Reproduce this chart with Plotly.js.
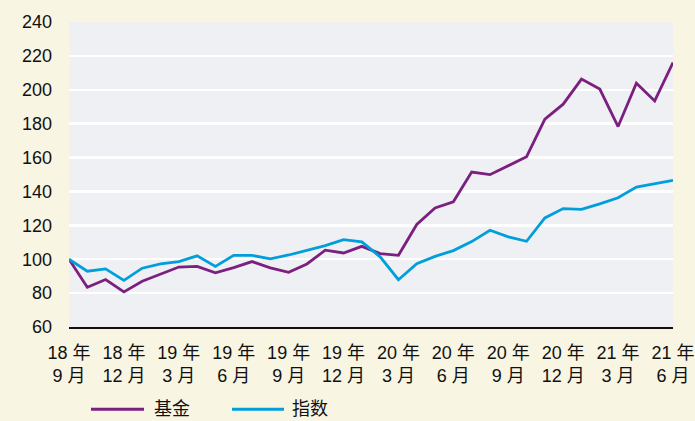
<!DOCTYPE html>
<html><head><meta charset="utf-8">
<script src="https://cdn.plot.ly/plotly-3.0.1.min.js"></script>
<style>html,body{margin:0;padding:0;background:#F8F5E3;}</style>
</head><body>
<div id="chart" style="width:695px;height:421px;"></div>
<script>
const monthIndex = [0,1,2,3,4,5,6,7,8,9,10,11,12,13,14,15,16,17,18,19,20,21,22,23,24,25,26,27,28,29,30,31,32,33];
const fund = [100,83.4,88,80.7,87,91,95.4,95.8,92,95,98.6,94.9,92.3,97.2,105.3,103.7,107.6,103.3,102.3,120.5,130.3,133.9,151.4,149.9,155,160.5,182.6,191.5,206.3,200.4,178.3,203.9,193.4,216.1];
const index = [100,92.9,94.3,87.5,94.7,97.2,98.6,102,95.8,102.3,102.3,100.2,102.5,105.3,108,111.6,110.2,101.4,87.9,97.4,101.7,105.1,110.4,117.1,113.2,110.6,124.4,129.9,129.4,132.7,136.3,142.6,144.6,146.5];
const tickVals = [0,3,6,9,12,15,18,21,24,27,30,33];
const tickLabels = ['18 年<br>9 月','18 年<br>12 月','19 年<br>3 月','19 年<br>6 月','19 年<br>9 月','19 年<br>12 月','20 年<br>3 月','20 年<br>6 月','20 年<br>9 月','20 年<br>12 月','21 年<br>3 月','21 年<br>6 月'];
const seriesNames = ['基金','指数'];
const seriesColors = ['#7B1F80','#009FDB'];

const font = 'Liberation Sans, Arial, Noto Sans CJK SC, sans-serif';
const traces = [
  {x: monthIndex, y: fund, name: seriesNames[0], type:'scatter', mode:'lines', line:{color:seriesColors[0], width:2.8}},
  {x: monthIndex, y: index, name: seriesNames[1], type:'scatter', mode:'lines', line:{color:seriesColors[1], width:2.8}}
];
// custom legend (longer line samples, as in the reference)
const legY = -0.27;
const legItems = [{x0:0.0364, x1:0.1242, tx:0.1374}, {x0:0.2699, x1:0.356, tx:0.3659}];
const shapes = legItems.map((it,i)=>({type:'line', xref:'paper', yref:'paper', x0:it.x0, x1:it.x1, y0:legY, y1:legY, line:{color:seriesColors[i], width:3}}));
const annotations = legItems.map((it,i)=>({xref:'paper', yref:'paper', x:it.tx, y:legY, xanchor:'left', yanchor:'middle', text:seriesNames[i], showarrow:false, font:{size:18, color:'#111'}}));

const layout = {
  width:695, height:421,
  paper_bgcolor:'#F8F5E3', plot_bgcolor:'#EFF0F3',
  margin:{l:69, r:22, t:22, b:94, autoexpand:false},
  font:{family:font, size:18, color:'#111'},
  showlegend:false,
  shapes: shapes,
  annotations: annotations,
  xaxis:{range:[0,33], tickvals:tickVals, ticktext:tickLabels, showgrid:false, zeroline:false,
    showline:true, linecolor:'#111', linewidth:2, ticks:'', ticklabelstandoff:8, tickfont:{size:18}},
  yaxis:{range:[60,240], dtick:20, tick0:60, showgrid:true, gridcolor:'#FFFFFF', gridwidth:2.5,
    zeroline:false, showline:false, ticks:'', ticklabelstandoff:16, tickfont:{size:18}}
};
Plotly.newPlot('chart', traces, layout, {displayModeBar:false, staticPlot:true});
</script>
</body></html>
